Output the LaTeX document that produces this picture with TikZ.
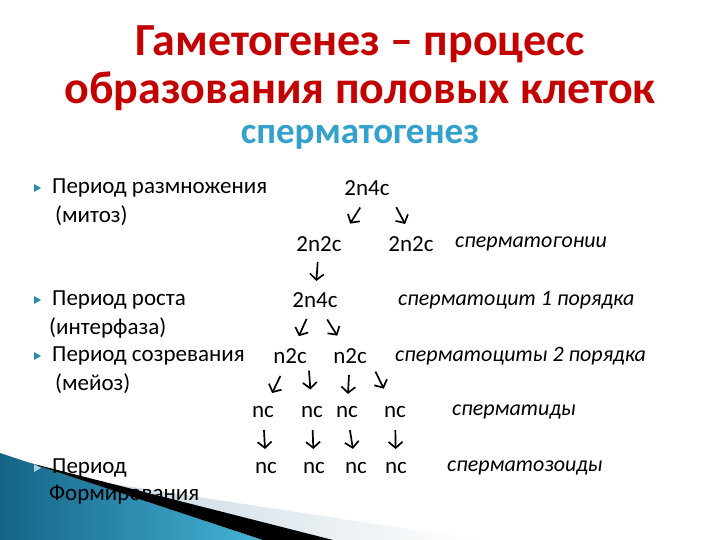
\documentclass[tikz,border=0pt]{standalone}
\usepackage{fontspec}
\setmainfont{Carlito}
\usetikzlibrary{arrows.meta,calc}
\definecolor{titlered}{RGB}{195,0,0}
\definecolor{subblue}{RGB}{52,160,204}
\definecolor{bulletcol}{RGB}{40,140,165}
\definecolor{wavedark}{RGB}{20,100,135}
\definecolor{wavelight}{RGB}{70,180,215}
\definecolor{wavegrey}{RGB}{200,215,225}
\tikzstyle{titletext}=[inner sep=0pt, text=titlered, font=\fontsize{46}{46}\selectfont\bfseries]
\tikzstyle{periodtext}=[inner sep=0pt, anchor=west, font=\fontsize{23}{27}\selectfont]
\tikzstyle{cellform}=[inner sep=1pt, font=\fontsize{23}{27}\selectfont]
\tikzstyle{stagetext}=[inner sep=0pt, anchor=west, font=\fontsize{22}{26}\selectfont\itshape]
\tikzstyle{splitarrow}=[line width=1.7pt, -{Straight Barb[length=6pt,width=14pt,line width=1.7pt]}]
\newcommand{\bulletmark}[2]
{
  \fill[#2] (#1) ++(-3,-4) -- ++(7,4) -- ++(-7,4) -- cycle;
}
\newcommand{\splitto}[2]
{
  \path (#1) -- (#2) coordinate[pos=0.5](mid);
  \draw[splitarrow] ($(mid)!10pt!(#1)$) -- ($(mid)!9pt!(#2)$);
}

\begin{document}
\begin{tikzpicture}[x=1pt,y=-1pt]
	\useasboundingbox[fill=white] (0,0) rectangle (720,540);

	% titles
	\node[titletext](title1) at (360,44) {Гаметогенез – процесс};
	\node[titletext](title2) at (360,91) {образования половых клеток};
	\node[inner sep=0pt, text=subblue, font=\fontsize{37}{37}\selectfont\bfseries](subtitle) at (360,137) {сперматогенез};

	\bulletmark{37,188}{bulletcol}
	\bulletmark{37,300}{bulletcol}
	\bulletmark{37,356}{bulletcol}

	\node[periodtext](per1) at (52,188) {Период размножения};
	\node[periodtext](mit) at (55,216) {(митоз)};
	\node[periodtext](per2) at (52,300) {Период роста};
	\node[periodtext](inter) at (49,328) {(интерфаза)};
	\node[periodtext](per3) at (52,356) {Период созревания};
	\node[periodtext](mei) at (55,384) {(мейоз)};

	% corner wave
	\shade[left color=wavedark, right color=wavelight] (0,453) -- (263,540) -- (0,540) -- cycle;
	\shade[left color=wavegrey, right color=white] (100,482) -- (480,540) -- (333,540) -- cycle;
	\fill[black] (30,463) -- (333,540) -- (263,540) -- cycle;
	\bulletmark{37,468}{bulletcol!40}

	\node[periodtext](per4) at (52,468) {Период};
	\node[periodtext](form) at (49,495) {Формирования};

	\node[cellform](a) at (367,188) {2n4c};
	\node[cellform](b1) at (319,244) {2n2c};
	\node[cellform](b2) at (411,244) {2n2c};
	\node[cellform](c) at (315,300) {2n4c};
	\node[cellform](d1) at (290,356) {n2c};
	\node[cellform](d2) at (350,356) {n2c};
	\node[cellform](e1) at (263,412) {nc};
	\node[cellform](e2) at (312,412) {nc};
	\node[cellform](e3) at (347,412) {nc};
	\node[cellform](e4) at (395,412) {nc};
	\node[cellform](f1) at (266,468) {nc};
	\node[cellform](f2) at (314,468) {nc};
	\node[cellform](f3) at (356,468) {nc};
	\node[cellform](f4) at (396,468) {nc};

	\splitto{a.south}{b1.north east}
	\splitto{a.south east}{b2.north}
	\splitto{b1}{c}
	\splitto{c}{d1}
	\splitto{c}{d2}
	\splitto{d1}{e1}
	\splitto{d1.east}{e2}
	\splitto{d2}{e3}
	\splitto{d2.east}{e4}
	\foreach \i in {1,...,4}{\splitto{e\i}{f\i}}

	\node[stagetext](st1) at (455,244) {сперматогонии};
	\node[stagetext](st2) at (398,300) {сперматоцит 1 порядка};
	\node[stagetext](st3) at (395,356) {сперматоциты 2 порядка};
	\node[stagetext](st4) at (452,412) {сперматиды};
	\node[stagetext](st5) at (447,468) {сперматозоиды};
\end{tikzpicture}
\end{document}
